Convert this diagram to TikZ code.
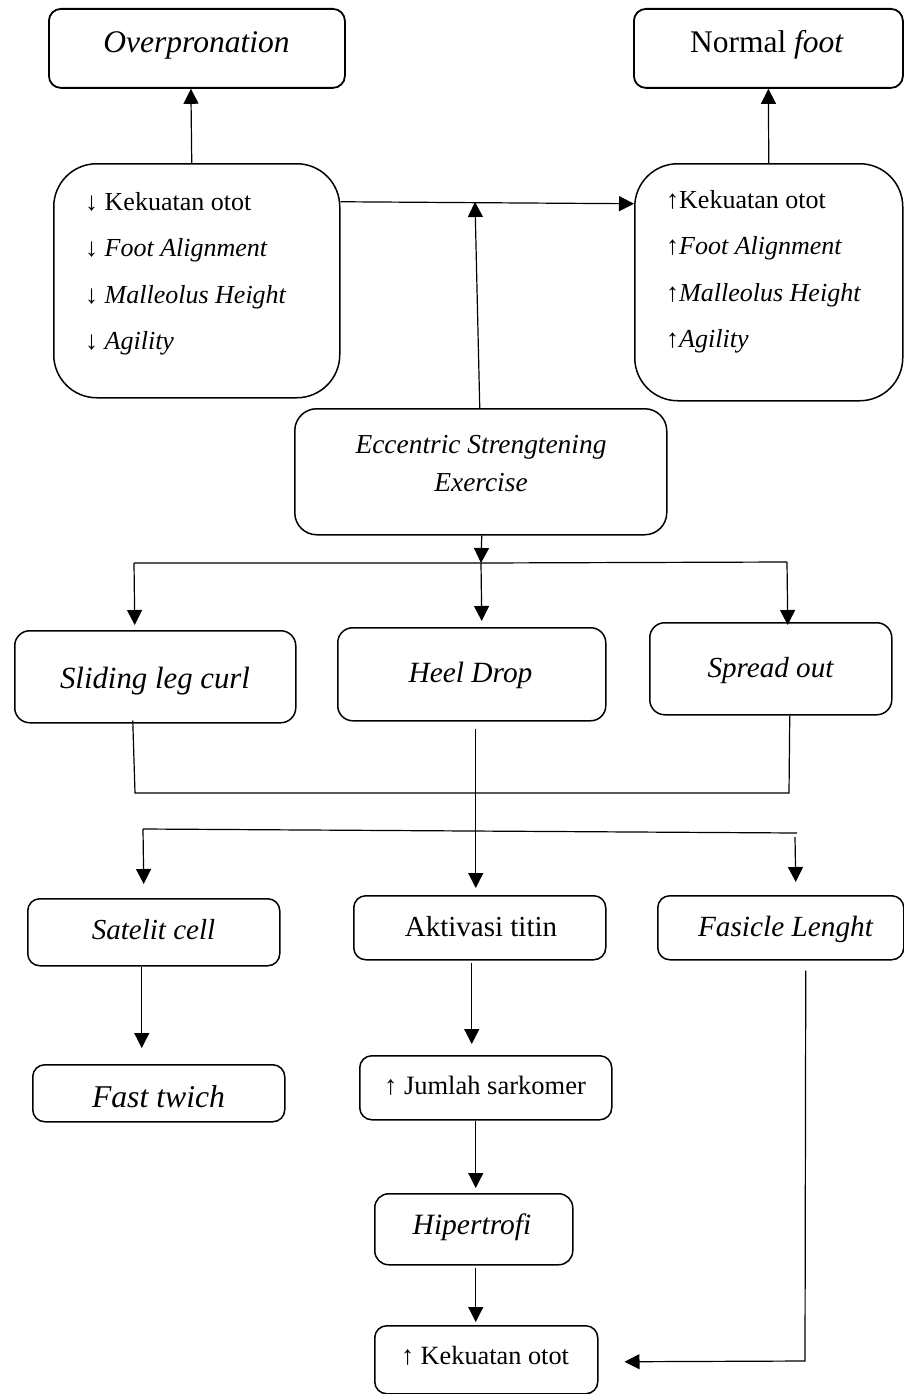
\documentclass[tikz,border=0pt]{standalone}
\usepackage{fontspec}
\setmainfont{Liberation Serif}
\usetikzlibrary{arrows.meta}
\tikzset{
  box/.style={draw, line width=1.5pt, rounded corners=#1, inner sep=0pt, anchor=north west},
  box/.default=12pt,
  lbl/.style={anchor=base, inner sep=0pt, font=\fontsize{#1}{#1}\selectfont},
  llbl/.style={anchor=base west, inner sep=0pt, font=\fontsize{26}{30}\selectfont},
  conn/.style={line width=1.2pt},
  arr/.style={conn, -{Triangle[length=15pt,width=15pt]}}
}
\begin{document}
\begin{tikzpicture}[x=1pt,y=-1pt]
\useasboundingbox (0,0) rectangle (904,1394);

% boxes
\node[box, line width=1.8pt, minimum width=296pt, minimum height=79pt] (over) at (48,8) {};
\node[box, line width=1.8pt, minimum width=269pt, minimum height=79pt] (normal) at (633,8) {};
\node[box=43pt, minimum width=286pt, minimum height=234pt] (left) at (53,163) {};
\node[box=43pt, minimum width=268pt, minimum height=237pt] (right) at (634,163) {};
\node[box=22pt, minimum width=372pt, minimum height=126pt] (ecc) at (294,408) {};
\node[box=15pt, minimum width=281pt, minimum height=92pt] (slide) at (14,630) {};
\node[box=15pt, minimum width=268pt, minimum height=93pt] (heel) at (337,627) {};
\node[box=15pt, minimum width=242pt, minimum height=92pt] (spread) at (649,622) {};
\node[box, minimum width=252pt, minimum height=67pt] (sat) at (27,898) {};
\node[box, minimum width=252pt, minimum height=64pt] (akt) at (353,895) {};
\node[box, minimum width=246pt, minimum height=64pt] (fas) at (657,895) {};
\node[box, minimum width=252pt, minimum height=57pt] (fast) at (32,1064) {};
\node[box, minimum width=252pt, minimum height=64pt] (jum) at (359,1055) {};
\node[box=14pt, minimum width=198pt, minimum height=71pt] (hip) at (374,1193) {};
\node[box, minimum width=223pt, minimum height=68pt] (kek) at (374,1325) {};

% texts
\node[lbl=31.5] (tover) at (196.5,53) {\itshape Overpronation};
\node[lbl=31.5] (tnormal) at (767,53) {Normal \textit{foot}};
\node[llbl] (l1) at (85,210) {↓ Kekuatan otot};
\node[llbl] (l2) at (85,256.5) {↓ \textit{Foot Alignment}};
\node[llbl] (l3) at (85,303) {↓ \textit{Malleolus Height}};
\node[llbl] (l4) at (85,349.5) {↓ \textit{Agility}};
\node[llbl] (r1) at (666,208) {↑Kekuatan otot};
\node[llbl] (r2) at (666,254.5) {↑\textit{Foot Alignment}};
\node[llbl] (r3) at (666,301) {↑\textit{Malleolus Height}};
\node[llbl] (r4) at (666,347.5) {↑\textit{Agility}};
\node[lbl=27.4] (tecc1) at (481,453) {\itshape Eccentric Strengtening};
\node[lbl=27.4] (tecc2) at (481,491) {\itshape Exercise};
\node[lbl=30.8] (tslide) at (155,688) {\itshape Sliding leg curl};
\node[lbl=29.4] (theel) at (470.5,682) {\itshape Heel Drop};
\node[lbl=29.1] (tspread) at (770.5,677) {\itshape Spread out};
\node[lbl=29] (tsat) at (153.5,939) {\itshape Satelit cell};
\node[lbl=29] (takt) at (481,936) {Aktivasi titin};
\node[lbl=29.3] (tfas) at (785.5,936) {\itshape Fasicle Lenght};
\node[lbl=31.7] (tfast) at (158.5,1107) {\itshape Fast twich};
\node[lbl=26.5] (tjum) at (485,1094) {↑ Jumlah sarkomer};
\node[lbl=29.5] (thip) at (472,1234) {\itshape Hipertrofi};
\node[lbl=26.3] (tkek) at (485,1364) {↑ Kekuatan otot};

% coordinates
\coordinate (mid) at (475,202);
\coordinate (b1) at (481,563);
\coordinate (bL) at (134,563);
\coordinate (bR) at (787,562);
\coordinate (cL) at (135,793);
\coordinate (cR) at (789,793);
\coordinate (dL) at (143,829);
\coordinate (dR) at (797,833);
\coordinate (dR2) at (795,837);
\coordinate (fc) at (805,1361);

% connectors
\draw[arr] ([xshift=-5pt]left.north) -- ([xshift=-6pt]over.south);
\draw[arr] (right.north) -- (normal.south);
\draw[arr] ([yshift=79pt]left.east) -- ([yshift=78.5pt]right.west);
\draw[arr] ([xshift=-1pt]ecc.north) -- (mid);
\draw[arr] ([xshift=1pt]ecc.south) -- (b1);
\draw[conn] (bL) -- (b1) -- (bR);
\draw[arr] (bL) -- ([xshift=-20.5pt,yshift=5pt]slide.north);
\draw[arr] (b1) -- ([xshift=10pt,yshift=6pt]heel.north);
\draw[arr] (bR) -- ([xshift=17pt,yshift=-3pt]spread.north);
\draw[conn] ([xshift=-22.5pt,yshift=3pt]slide.south) -- (cL) -- (cR) -- ([xshift=19pt]spread.south);
\draw[arr] ([xshift=4pt,yshift=-7pt]heel.south) -- ([xshift=-4pt,yshift=7pt]akt.north);
\draw[conn] (dL) -- (dR);
\draw[arr] (dL) -- ([xshift=-10pt,yshift=14pt]sat.north);
\draw[arr] (dR2) -- ([xshift=15pt,yshift=13pt]fas.north);
\draw[arr] ([xshift=-12pt]sat.south) -- ([xshift=-17pt,yshift=16pt]fast.north);
\draw[arr] ([xshift=-8pt,yshift=-2pt]akt.south) -- ([xshift=-14pt,yshift=11pt]jum.north);
\draw[arr] ([xshift=-10pt]jum.south) -- ([xshift=2pt,yshift=5pt]hip.north);
\draw[arr] ([xshift=2pt,yshift=-2pt]hip.south) -- ([xshift=-10.5pt,yshift=3pt]kek.north);
\draw[arr] ([xshift=25pt,yshift=-10pt]fas.south) -- (fc) -- ([xshift=26pt,yshift=-2pt]kek.east);
\end{tikzpicture}
\end{document}
